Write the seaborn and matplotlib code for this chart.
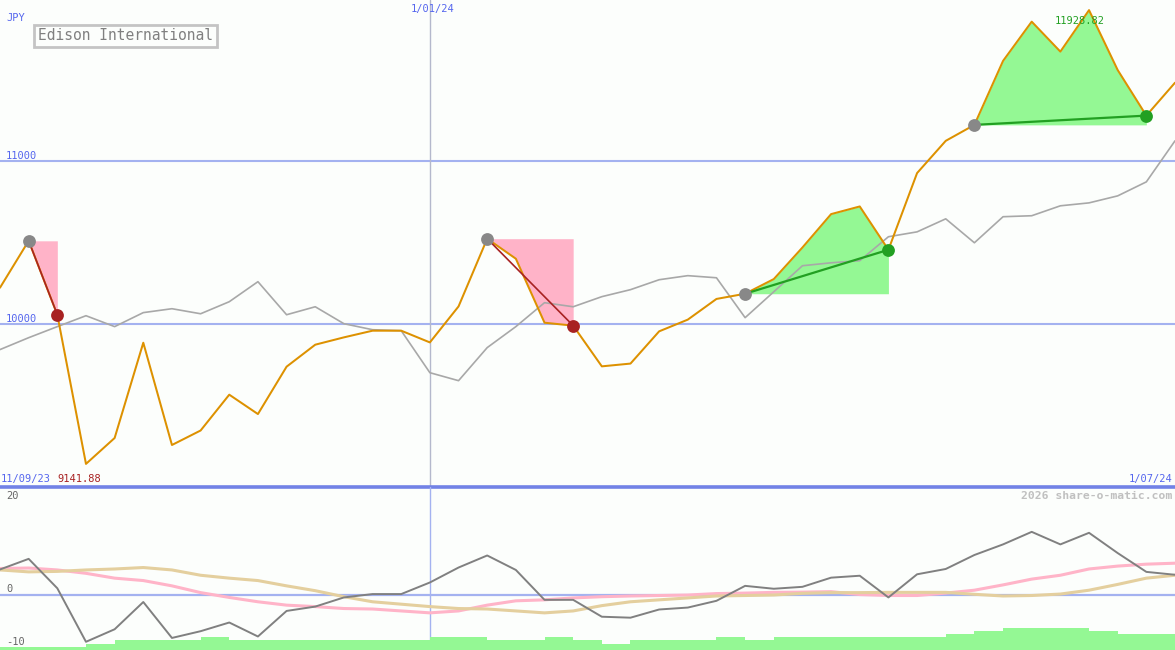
import numpy as np
import matplotlib
matplotlib.use("Agg")
import matplotlib.pyplot as plt
import seaborn as sns

# ---------------- data ----------------
week_labels = ["11/09/23", "1/01/24", "1/07/24"]
title = "Edison International"
currency = "JPY"

price = [10224, 10512, 10058, 9141.88, 9301, 9886, 9258, 9347, 9567, 9448,
         9739, 9874, 9919, 9960, 9960, 9888, 10109, 10525, 10402, 10009,
         9991, 9741, 9758, 9956, 10028, 10155, 10187, 10277, 10471, 10676,
         10723, 10457, 10928, 11126, 11224, 11617, 11858, 11674, 11928.82, 11561,
         11281, 11483]

compare = [9844, 9917, 9985, 10052, 9985, 10071, 10095, 10064, 10138, 10261,
           10058, 10107, 10003, 9966, 9960, 9702, 9653, 9856, 9985, 10132,
           10107, 10169, 10212, 10273, 10298, 10285, 10040, 10199, 10359, 10377,
           10390, 10537, 10567, 10647, 10500, 10660, 10666, 10727, 10745, 10788,
           10874, 11126]

momentum = [5.3, 7.5, 1.4, -9.7, -7.1, -1.45, -8.9, -7.5, -5.7, -8.6,
            -3.3, -2.4, -0.5, 0.2, 0.2, 2.6, 5.7, 8.2, 5.2, -1.0,
            -1.0, -4.5, -4.7, -3.0, -2.6, -1.2, 1.9, 1.3, 1.7, 3.6,
            4.0, -0.5, 4.3, 5.4, 8.3, 10.5, 13.1, 10.5, 12.9, 8.7,
            4.8, 4.2]

smooth_fast = [5.5, 5.6, 5.2, 4.5, 3.5, 3.0, 1.9, 0.5, -0.5, -1.4,
               -2.1, -2.4, -2.8, -2.9, -3.3, -3.7, -3.3, -2.1, -1.2, -1.0,
               -0.6, -0.35, -0.2, -0.1, 0.0, 0.3, 0.4, 0.55, 0.6, 0.7,
               0.1, -0.1, -0.1, 0.4, 1.0, 2.1, 3.3, 4.1, 5.4, 6.0,
               6.4, 6.6]

smooth_slow = [5.2, 4.8, 4.9, 5.2, 5.4, 5.7, 5.2, 4.1, 3.5, 3.0,
               1.9, 0.9, -0.35, -1.4, -1.9, -2.4, -2.8, -2.9, -3.3, -3.7,
               -3.3, -2.2, -1.4, -1.0, -0.6, -0.2, -0.1, 0.0, 0.35, 0.5,
               0.5, 0.55, 0.55, 0.55, 0.15, -0.2, -0.1, 0.2, 1.0, 2.2,
               3.5, 4.1]

volume_level = [1, 1, 1, 2, 3, 3, 3, 4, 3, 3, 3, 3, 3, 3, 3, 4, 4, 3, 3, 4,
                3, 2, 3, 3, 3, 4, 3, 4, 4, 4, 4, 4, 4, 5, 6, 7, 7, 7, 6, 5, 5]

sell_zones = [(1, 2), (17, 20)]
buy_zones = [(26, 31), (34, 40)]
year_mark = 15
price_lines = [11000, 10000]
osc_ticks = [20, 0, -10]

# ---------------- style ----------------
sns.set_theme(style="white")
plt.rcParams["font.family"] = ["DejaVu Sans Mono", "DejaVu Sans"]

BG = "#fcfefc"
ORANGE = "#dd9100"
GRAYLINE = "#a8a8a8"
BLUE_TXT = "#5566ee"
GRID = "#a4b2f0"
PINK = "#ffb3c8"
GREEN_FILL = "#94f894"
GREEN_LINE = "#22a022"
DARKRED = "#a82222"
W, H = 1175, 650

fig = plt.figure(figsize=(W / 100, H / 100), dpi=100)
fig.patch.set_facecolor(BG)
ax1 = fig.add_axes([0, 163 / H, 1, 487 / H])
ax2 = fig.add_axes([0, 0, 1, 163 / H])
ax3 = ax2.twinx()
for a in (ax1, ax2, ax3):
    a.set_axis_off()
ax3.set_zorder(1)
ax2.set_zorder(2)
ax2.patch.set_visible(False)

x = np.arange(len(price))
price_a = np.array(price, dtype=float)

ax1.set_xlim(0, len(price) - 1)
ax1.set_ylim(9000, 11991)
ax2.set_xlim(0, len(price) - 1)
ax2.set_ylim(-11.4, 22.4)
ax3.set_ylim(0, 51)

# grid lines
for lv in price_lines:
    ax1.axhline(lv, color=GRID, lw=1.5, zorder=1)
ax1.axhline(9000, color="#7282e6", lw=2.6, zorder=5, clip_on=False)
ax1.axvline(year_mark, color="#b4b8cc", lw=1, zorder=1)

# zones
for s, e in sell_zones:
    ax1.fill_between(x[s:e + 1], price_a[s], price_a[s:e + 1], color=PINK, lw=0, zorder=2)
for s, e in buy_zones:
    ax1.fill_between(x[s:e + 1], price_a[s], price_a[s:e + 1], color=GREEN_FILL, lw=0, zorder=2)

sns.lineplot(x=x, y=compare, ax=ax1, color=GRAYLINE, lw=1.2, zorder=3)
sns.lineplot(x=x, y=price, ax=ax1, color=ORANGE, lw=1.45, zorder=4)

for s, e in sell_zones:
    ax1.plot([s, e], [price_a[s], price_a[e]], color=DARKRED, lw=1.2, zorder=5)
    ax1.scatter([s], [price_a[s]], s=85, color="#888888", zorder=6, lw=0)
    ax1.scatter([e], [price_a[e]], s=85, color=DARKRED, zorder=6, lw=0)
for s, e in buy_zones:
    ax1.plot([s, e], [price_a[s], price_a[e]], color=GREEN_LINE, lw=1.6, zorder=5)
    ax1.scatter([s], [price_a[s]], s=85, color="#888888", zorder=6, lw=0)
    ax1.scatter([e], [price_a[e]], s=85, color=GREEN_LINE, zorder=6, lw=0)

# lower panel
ax3.axvline(year_mark, color=GRID, lw=1, zorder=0)
ax3.bar(x[:-1], volume_level, width=1.0, align="edge", color=GREEN_FILL, lw=0, zorder=1)
ax2.axhline(0, color=GRID, lw=1.6, zorder=1)
sns.lineplot(x=x, y=smooth_fast, ax=ax2, color="#ffb4c8", lw=2.2, zorder=2)
sns.lineplot(x=x, y=smooth_slow, ax=ax2, color="#e4cf9e", lw=2.2, zorder=3)
sns.lineplot(x=x, y=momentum, ax=ax2, color="#808080", lw=1.4, zorder=4)

# texts
def ftext(px, py, s, **kw):
    fig.text(px / W, 1 - py / H, s, **kw)

ftext(6, 18, currency, color=BLUE_TXT, fontsize=7.5, va="center", ha="left")
ftext(38, 36, title, color="#808080", fontsize=10.5, va="center", ha="left",
      bbox=dict(boxstyle="square,pad=0.25", fc=BG, ec="#c4c4c4", lw=2))
ftext(6, 156, f"{price_lines[0]}", color=BLUE_TXT, fontsize=7.5, va="center")
ftext(6, 319, f"{price_lines[1]}", color=BLUE_TXT, fontsize=7.5, va="center")
ftext(433, 9, week_labels[1], color=BLUE_TXT, fontsize=7.5, va="center", ha="center")
ftext(1, 479, week_labels[0], color=BLUE_TXT, fontsize=7.5, va="center", ha="left")
ftext(57, 479, f"{min(price):.2f}", color=DARKRED, fontsize=7.5, va="center", ha="left")
ftext(1172, 479, week_labels[2], color=BLUE_TXT, fontsize=7.5, va="center", ha="right")
ftext(1080, 21, f"{max(price):.2f}", color=GREEN_LINE, fontsize=7.5, va="center", ha="center", zorder=0)
ftext(1172, 496, "2026 share-o-matic.com", color="#c0c0c0", fontsize=8.2,
      va="center", ha="right", fontweight="bold")
for t, py in zip(osc_ticks, [496, 589, 642]):
    ftext(6, py, f"{t}", color="#666666", fontsize=7.5, va="center", ha="left")

fig.savefig("out.png", dpi=100, facecolor=BG)
